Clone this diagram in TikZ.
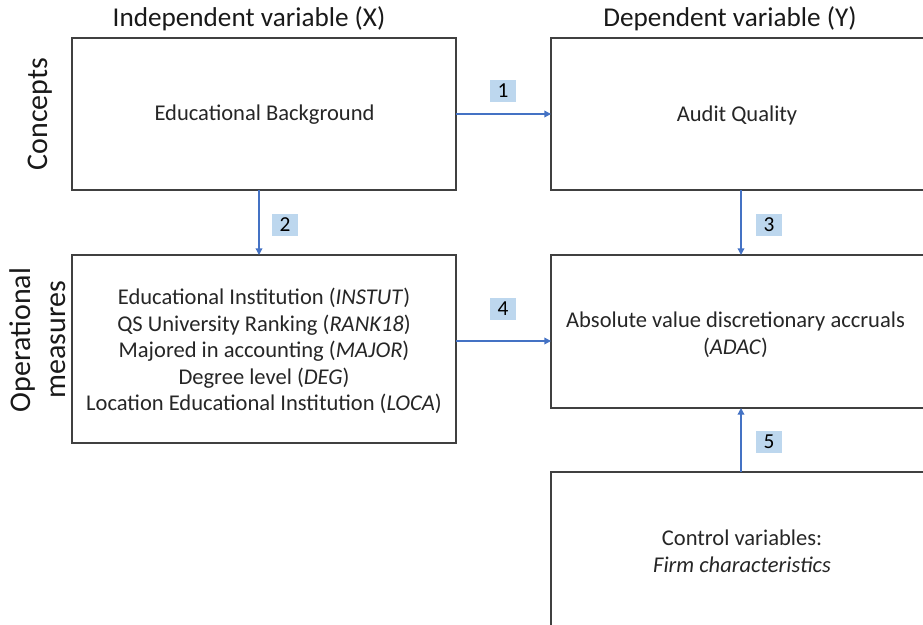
\documentclass[tikz,border=0pt]{standalone}
\usepackage{fontspec}
\setmainfont{Carlito}
\usetikzlibrary{arrows.meta}
\definecolor{arr}{HTML}{4472C4}
\definecolor{lab}{HTML}{BDD7EE}
\definecolor{edge}{HTML}{404040}
\begin{document}
\begin{tikzpicture}[x=0.75pt,y=-0.75pt,
  box/.style={draw=edge,line width=1.3pt,fill=white},
  txt/.style={font=\fontsize{16.9}{19.9}\selectfont,align=center,text=black!85},
  head/.style={font=\fontsize{20.4}{24}\selectfont,text=black!90},
  side/.style={font=\fontsize{22.5}{26}\selectfont,rotate=90,align=center,text=black!90},
  conn/.style={draw=arr,line width=1pt,-{Triangle[length=5pt,width=5pt]}},
  num/.style={fill=lab,minimum width=19.5pt,minimum height=16.5pt,inner sep=0pt,font=\fontsize{16}{18}\selectfont}]
\useasboundingbox (0,0) rectangle (923,624);
\begin{scope}
\clip (0,0) rectangle (923,624);
\draw[box] (72,38) rectangle (456,190);
\draw[box] (551,38) rectangle (945,190);
\draw[box] (72,255) rectangle (456,443);
\draw[box] (551,255) rectangle (945,408);
\draw[box] (551,472) rectangle (945,650);
\end{scope}
\node[txt] (a) at (264.5,115) {Educational Background};
\node[txt] (b) at (737,115) {Audit Quality};
\node[txt] (c) at (264,351) {Educational Institution (\textit{INSTUT})\\QS University Ranking (\textit{RANK18})\\Majored in accounting (\textit{MAJOR})\\Degree level (\textit{DEG})\\Location Educational Institution (\textit{LOCA})};
\node[txt] (d) at (735.5,335) {Absolute value discretionary accruals\\(\textit{ADAC})};
\node[txt] (e) at (742,551) {Control variables:\\\textit{Firm characteristics}};
\node[head] (h1) at (249,19) {Independent variable (X)};
\node[head] (h2) at (730,19) {Dependent variable (Y)};
\node[side] (s1) at (40,114) {Concepts};
\node[side] (s2) at (38,340) {Operational\\measures};
\coordinate (p1a) at (456,114); \coordinate (p1b) at (551,114);
\coordinate (p2a) at (259,190); \coordinate (p2b) at (259,255);
\coordinate (p3a) at (741,190); \coordinate (p3b) at (741,255);
\coordinate (p4a) at (456,341); \coordinate (p4b) at (551,341);
\coordinate (p5a) at (741,472); \coordinate (p5b) at (741,408);
\draw[conn] (p1a) -- (p1b);
\draw[conn] (p2a) -- (p2b);
\draw[conn] (p3a) -- (p3b);
\draw[conn] (p4a) -- (p4b);
\draw[conn] (p5a) -- (p5b);
\node[num] (n1) at (503,91) {1};
\node[num] (n2) at (285,225) {2};
\node[num] (n3) at (769,225) {3};
\node[num] (n4) at (503,309) {4};
\node[num] (n5) at (769,442) {5};
\end{tikzpicture}
\end{document}
